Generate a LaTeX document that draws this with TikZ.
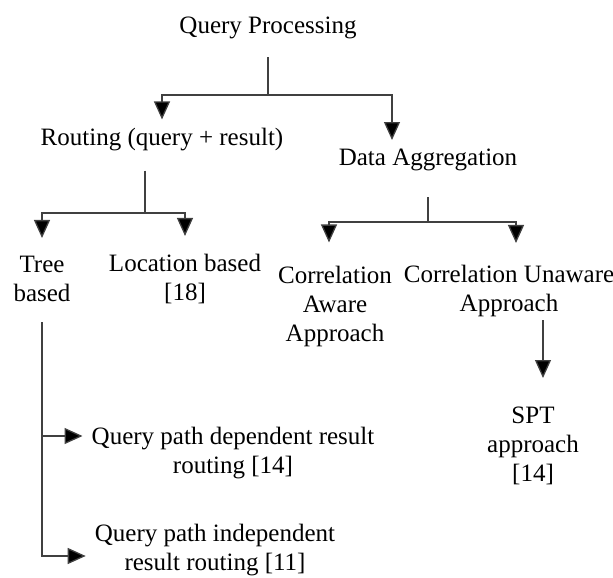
\documentclass[tikz,border=0pt]{standalone}
\usepackage{fontspec}
\setmainfont{Liberation Serif}
\usetikzlibrary{arrows.meta}
\begin{document}
\begin{tikzpicture}[x=1pt,y=-1pt,
    lbl/.style={font=\fontsize{25}{29}\selectfont, align=center, inner sep=0pt},
    conn/.style={line width=1.3pt, draw=black!75},
    arr/.style={conn, -{Triangle[length=18pt,width=16pt,fill=black]}}]
    \useasboundingbox (0,0) rectangle (613,578);
    \node[lbl] at (268,28) (QP) {Query Processing};
    \node[lbl] at (162,140) (RT) {Routing (query + result)};
    \node[lbl] at (428,160) (DA) {Data Aggregation};
    \node[lbl] at (42,279) (TB) {Tree\\based};
    \node[lbl] at (185,279) (LB) {Location based\\{[18]}};
    \node[lbl] at (335,306) (CA) {Correlation\\Aware\\Approach};
    \node[lbl] at (509,291) (CU) {Correlation Unaware\\Approach};
    \node[lbl] at (533,446) (SPT) {SPT\\approach\\{[14]}};
    \node[lbl] at (233,453) (QD) {Query path dependent result\\routing [14]};
    \node[lbl] at (215,550) (QI) {Query path independent\\result routing [11]};
    % junctions and arrow ends
    \coordinate (QPj) at (268,95);
    \coordinate (RTj) at (145,213);
    \coordinate (DAj) at (428,222);
    \coordinate (DAin) at (392,140);
    \coordinate (SPTin) at (543,378);
    \coordinate (QDin) at ([xshift=-9pt,yshift=17pt]QD.west);
    \coordinate (QIin) at ([xshift=-9pt,yshift=-6pt]QI.west);
    % query processing
    \draw[conn, shorten <=18pt] (QP.south) -- (QPj);
    \draw[arr] (QPj) -| ([yshift=9pt]RT.north);
    \draw[arr] (QPj) -| (DAin);
    % routing
    \draw[conn, shorten <=19pt] (RTj |- RT.south) -- (RTj);
    \draw[arr] (RTj) -| ([yshift=18pt]TB.north);
    \draw[arr] (RTj) -| ([yshift=18pt]LB.north);
    % data aggregation
    \draw[conn, shorten <=26pt] (DA.south) -- (DAj);
    \draw[arr] (DAj) -| ([xshift=-6pt,yshift=23pt]CA.north);
    \draw[arr] (DAj) -| ([xshift=7pt,yshift=22pt]CU.north);
    \draw[arr, shorten <=3pt] (CU.south -| SPTin) -- (SPTin);
    % tree based
    \draw[arr, shorten <=20pt] (TB.south) |- (QIin);
    \draw[arr] (TB.south |- QDin) -- (QDin);
\end{tikzpicture}
\end{document}
